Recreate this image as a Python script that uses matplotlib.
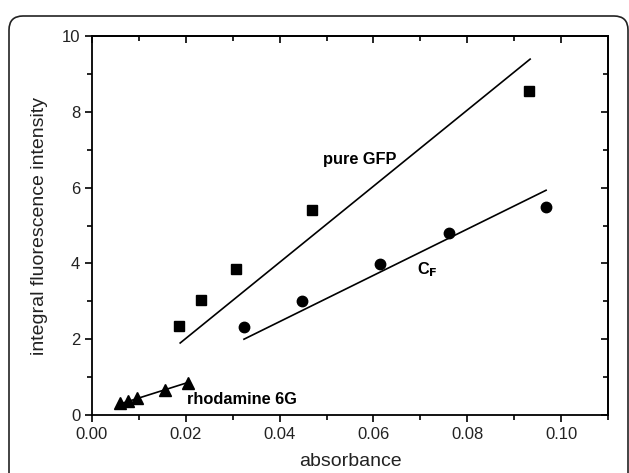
import matplotlib
matplotlib.use('Agg')
import matplotlib.pyplot as plt
from matplotlib.patches import FancyBboxPatch
from matplotlib.ticker import MultipleLocator

plt.rcParams['font.family'] = ['Liberation Sans', 'DejaVu Sans']

# pure GFP (squares)
gfp_x = [0.0186, 0.0232, 0.0307, 0.0470, 0.0932]
gfp_y = [2.35, 3.04, 3.85, 5.42, 8.55]
gfp_fit_x = [0.0188, 0.0934]
gfp_fit_y = [1.90, 9.39]

# C_F (circles)
cf_x = [0.0324, 0.0448, 0.0614, 0.0761, 0.0967]
cf_y = [2.32, 3.00, 3.99, 4.81, 5.48]
cf_fit_x = [0.0324, 0.0968]
cf_fit_y = [2.00, 5.93]

# rhodamine 6G (triangles)
rh_x = [0.0060, 0.0077, 0.0096, 0.0156, 0.0204]
rh_y = [0.31, 0.36, 0.45, 0.66, 0.85]
rh_fit_x = [0.0062, 0.0205]
rh_fit_y = [0.30, 0.86]

fig = plt.figure(figsize=(6.29, 4.73), dpi=100)
ax = fig.add_axes([92/629, 1-415/473, (608-92)/629, (415-36)/473])

ax.plot(gfp_x, gfp_y, 's', color='black', markersize=7)
ax.plot(gfp_fit_x, gfp_fit_y, '-', color='black', lw=1.2)
ax.plot(cf_x, cf_y, 'o', color='black', markersize=7.5)
ax.plot(cf_fit_x, cf_fit_y, '-', color='black', lw=1.2)
ax.plot(rh_x, rh_y, '^', color='black', markersize=8)
ax.plot(rh_fit_x, rh_fit_y, '-', color='black', lw=1.2)

ax.text(0.0493, 6.75, 'pure GFP', fontsize=11.8, fontweight='bold', va='center')
ax.text(0.0693, 3.84, r'C$_\mathbf{F}$', fontsize=11.8, fontweight='bold', va='center')
ax.text(0.0203, 0.42, 'rhodamine 6G', fontsize=11.8, fontweight='bold', va='center')

ax.set_xlim(0, 0.11)
ax.set_ylim(0, 10)
ax.xaxis.set_major_locator(MultipleLocator(0.02))
ax.xaxis.set_minor_locator(MultipleLocator(0.01))
ax.yaxis.set_major_locator(MultipleLocator(2))
ax.yaxis.set_minor_locator(MultipleLocator(1))
ax.xaxis.set_major_formatter(plt.FuncFormatter(lambda v, p: '%.2f' % v))
ax.tick_params(which='major', direction='out', length=5, width=1.2, labelsize=12,
               labelcolor='#222222')
ax.tick_params(which='minor', direction='out', length=3.5, width=1.2)
for s in ax.spines.values():
    s.set_linewidth(1.3)

top = ax.secondary_xaxis('top')
top.xaxis.set_major_locator(MultipleLocator(0.02))
top.xaxis.set_minor_locator(MultipleLocator(0.01))
top.tick_params(which='major', direction='in', length=5, width=1.2, labeltop=False)
top.tick_params(which='minor', direction='in', length=3.5, width=1.2)
top.spines['top'].set_linewidth(1.3)
right = ax.secondary_yaxis('right')
right.yaxis.set_major_locator(MultipleLocator(2))
right.yaxis.set_minor_locator(MultipleLocator(1))
right.tick_params(which='major', direction='in', length=5, width=1.2, labelright=False)
right.tick_params(which='minor', direction='in', length=3.5, width=1.2)
right.spines['right'].set_linewidth(1.3)

ax.set_xlabel('absorbance', fontsize=14, labelpad=8, color='#222222')
ax.set_ylabel('integral fluorescence intensity', fontsize=14, labelpad=10, color='#222222')

# rounded frame around the figure
frame = FancyBboxPatch((9, -30), 619, 487, boxstyle='round,pad=0,rounding_size=14',
                       transform=None, fill=False, edgecolor='#222222', lw=1.2)
fig.patches.append(frame)

fig.savefig('out.png', dpi=100)
